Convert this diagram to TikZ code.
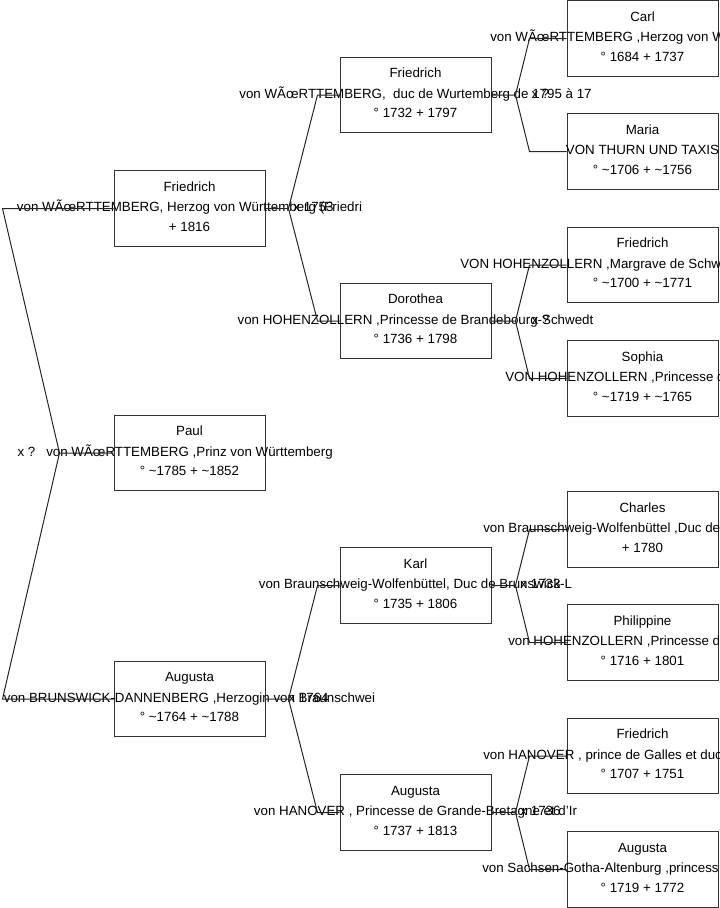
\documentclass[tikz,border=0pt]{standalone}
\usepackage{fontspec}
\setmainfont{Liberation Sans}
\usetikzlibrary{calc}
\tikzset{
  pbox/.style={draw=black!80, fill=white, line width=0.75pt, minimum width=113.25pt, minimum height=56.6pt, inner sep=0pt},
  txt/.style={font=\fontsize{10pt}{12pt}\selectfont, inner sep=0pt, anchor=base},
  txtw/.style={txt, anchor=base west},
  link/.style={draw=black!85, line width=0.75pt},
}
\begin{document}
\begin{tikzpicture}[x=0.75pt,y=-0.75pt]
\useasboundingbox (0,0) rectangle (719,908);
\clip (0,0) rectangle (719,908);
% boxes
\node[pbox] (F0) at (189.5,208.5) {};
\node[pbox] (P0) at (189.5,453) {};
\node[pbox] (A0) at (189.5,699) {};
\node[pbox] (F1) at (415.5,95) {};
\node[pbox] (D1) at (415.5,321) {};
\node[pbox] (K1) at (415.5,585.5) {};
\node[pbox] (A1) at (415.5,812.5) {};
\node[pbox] (C2) at (642.5,38.5) {};
\node[pbox] (M2) at (642.5,151.5) {};
\node[pbox] (H2) at (642.5,265) {};
\node[pbox] (S2) at (642.5,378.5) {};
\node[pbox] (B2) at (642.5,529.5) {};
\node[pbox] (Q2) at (642.5,642.5) {};
\node[pbox] (G2) at (642.5,756) {};
\node[pbox] (U2) at (642.5,869.5) {};
% texts generation 0
\node[txt] (F0a) at ($(F0)+(0,-17.5)$) {Friedrich};
\node[txt] (F0b) at ($(F0)+(0,3)$) {von WÃ\oe{}RTTEMBERG, Herzog von Württemberg (Friedri};
\node[txt] (F0c) at ($(F0)+(0,22.5)$) {+ 1816};
\node[txt] (P0a) at ($(P0)+(0,-17.5)$) {Paul};
\node[txt] (P0b) at ($(P0)+(0,3)$) {von WÃ\oe{}RTTEMBERG ,Prinz von Württemberg};
\node[txt] (P0c) at ($(P0)+(0,22.5)$) {° \textasciitilde1785 + \textasciitilde1852};
\node[txt] (A0a) at ($(A0)+(0,-17.5)$) {Augusta};
\node[txt] (A0b) at ($(A0)+(0,3)$) {von BRUNSWICK-DANNENBERG ,Herzogin von Braunschwei};
\node[txt] (A0c) at ($(A0)+(0,22.5)$) {° \textasciitilde1764 + \textasciitilde1788};
% texts generation 1
\node[txt] (F1a) at ($(F1)+(0,-17.5)$) {Friedrich};
\node[txt] (F1b) at ($(F1)+(0,3)$) {von WÃ\oe{}RTTEMBERG,\ \ duc de Wurtemberg de 1795 à 17};
\node[txt] (F1c) at ($(F1)+(0,22.5)$) {° 1732 + 1797};
\node[txt] (D1a) at ($(D1)+(0,-17.5)$) {Dorothea};
\node[txt] (D1b) at ($(D1)+(0,3)$) {von HOHENZOLLERN ,Princesse de Brandebourg-Schwedt};
\node[txt] (D1c) at ($(D1)+(0,22.5)$) {° 1736 + 1798};
\node[txt] (K1a) at ($(K1)+(0,-17.5)$) {Karl};
\node[txt] (K1b) at ($(K1)+(0,3)$) {von Braunschweig-Wolfenbüttel, Duc de Brunswick-L};
\node[txt] (K1c) at ($(K1)+(0,22.5)$) {° 1735 + 1806};
\node[txt] (A1a) at ($(A1)+(0,-17.5)$) {Augusta};
\node[txt] (A1b) at ($(A1)+(0,3)$) {von HANOVER , Princesse de Grande-Bretagne et d'Ir};
\node[txt] (A1c) at ($(A1)+(0,22.5)$) {° 1737 + 1813};
% texts generation 2
\node[txt] (C2a) at ($(C2)+(0,-17.5)$) {Carl};
\node[txtw] (C2b) at (490,41.5) {von WÃ\oe{}RTTEMBERG ,Herzog von W};
\node[txt] (C2c) at ($(C2)+(0,22.5)$) {° 1684 + 1737};
\node[txt] (M2a) at ($(M2)+(0,-17.5)$) {Maria};
\node[txt] (M2b) at ($(M2)+(0,3)$) {VON THURN UND TAXIS};
\node[txt] (M2c) at ($(M2)+(0,22.5)$) {° \textasciitilde1706 + \textasciitilde1756};
\node[txt] (H2a) at ($(H2)+(0,-17.5)$) {Friedrich};
\node[txtw] (H2b) at (460,268) {VON HOHENZOLLERN ,Margrave de Schw};
\node[txt] (H2c) at ($(H2)+(0,22.5)$) {° \textasciitilde1700 + \textasciitilde1771};
\node[txt] (S2a) at ($(S2)+(0,-17.5)$) {Sophia};
\node[txtw] (S2b) at (505,381.5) {VON HOHENZOLLERN ,Princesse d};
\node[txt] (S2c) at ($(S2)+(0,22.5)$) {° \textasciitilde1719 + \textasciitilde1765};
\node[txt] (B2a) at ($(B2)+(0,-17.5)$) {Charles};
\node[txtw] (B2b) at (483,532.5) {von Braunschweig-Wolfenbüttel ,Duc de};
\node[txt] (B2c) at ($(B2)+(0,22.5)$) {+ 1780};
\node[txt] (Q2a) at ($(Q2)+(0,-17.5)$) {Philippine};
\node[txtw] (Q2b) at (508,645.5) {von HOHENZOLLERN ,Princesse d};
\node[txt] (Q2c) at ($(Q2)+(0,22.5)$) {° 1716 + 1801};
\node[txt] (G2a) at ($(G2)+(0,-17.5)$) {Friedrich};
\node[txtw] (G2b) at (483,759) {von HANOVER , prince de Galles et duc};
\node[txt] (G2c) at ($(G2)+(0,22.5)$) {° 1707 + 1751};
\node[txt] (U2a) at ($(U2)+(0,-17.5)$) {Augusta};
\node[txtw] (U2b) at (482,872.5) {von Sachsen-Gotha-Altenburg ,princess};
\node[txt] (U2c) at ($(U2)+(0,22.5)$) {° 1719 + 1772};
% junction points
\coordinate (jP) at ($(P0.west)+(-54,0)$);
\coordinate (lF) at ($(F0.west)+(-111,0)$);
\coordinate (lA) at ($(A0.west)+(-111,0)$);
\coordinate (j0a) at ($(F0.east)+(23,0)$);
\coordinate (j0b) at ($(A0.east)+(23,0)$);
\coordinate (j1a) at ($(F1.east)+(24,0)$);
\coordinate (j1b) at ($(D1.east)+(24,0)$);
\coordinate (j1c) at ($(K1.east)+(24,0)$);
\coordinate (j1d) at ($(A1.east)+(24,0)$);
% marriage labels
\node[txt] (mP) at ($(jP)+(-33,3)$) {x ?};
\node[txt] (m0a) at ($(j0a)+(25,3)$) {x 1753};
\node[txt] (m0b) at ($(j0b)+(20,3)$) {x 1764};
\node[txt] (m1a) at ($(j1a)+(25,3)$) {x ?};
\node[txt] (m1b) at ($(j1b)+(25,3)$) {x ?};
\node[txt] (m1c) at ($(j1c)+(25,3)$) {x 1733};
\node[txt] (m1d) at ($(j1d)+(25,3)$) {x 1736};
% connectors
\draw[link] (P0.west) -- (jP) -- (lF) -- (F0.west);
\draw[link] (jP) -- (lA) -- (A0.west);
\draw[link] (F0.east) -- (j0a) -- ($(F1.west)+(-22,0)$) -- (F1.west);
\draw[link] (j0a) -- ($(D1.west)+(-22,0)$) -- (D1.west);
\draw[link] (A0.east) -- (j0b) -- ($(K1.west)+(-22,0)$) -- (K1.west);
\draw[link] (j0b) -- ($(A1.west)+(-22,0)$) -- (A1.west);
\draw[link] (F1.east) -- (j1a) -- ($(C2.west)+(-37,0)$) -- (C2.west);
\draw[link] (j1a) -- ($(M2.west)+(-37,0)$) -- (M2.west);
\draw[link] (D1.east) -- (j1b) -- ($(H2.west)+(-37,0)$) -- (H2.west);
\draw[link] (j1b) -- ($(S2.west)+(-37,0)$) -- (S2.west);
\draw[link] (K1.east) -- (j1c) -- ($(B2.west)+(-37,0)$) -- (B2.west);
\draw[link] (j1c) -- ($(Q2.west)+(-37,0)$) -- (Q2.west);
\draw[link] (A1.east) -- (j1d) -- ($(G2.west)+(-37,0)$) -- (G2.west);
\draw[link] (j1d) -- ($(U2.west)+(-37,0)$) -- (U2.west);
\end{tikzpicture}
\end{document}
